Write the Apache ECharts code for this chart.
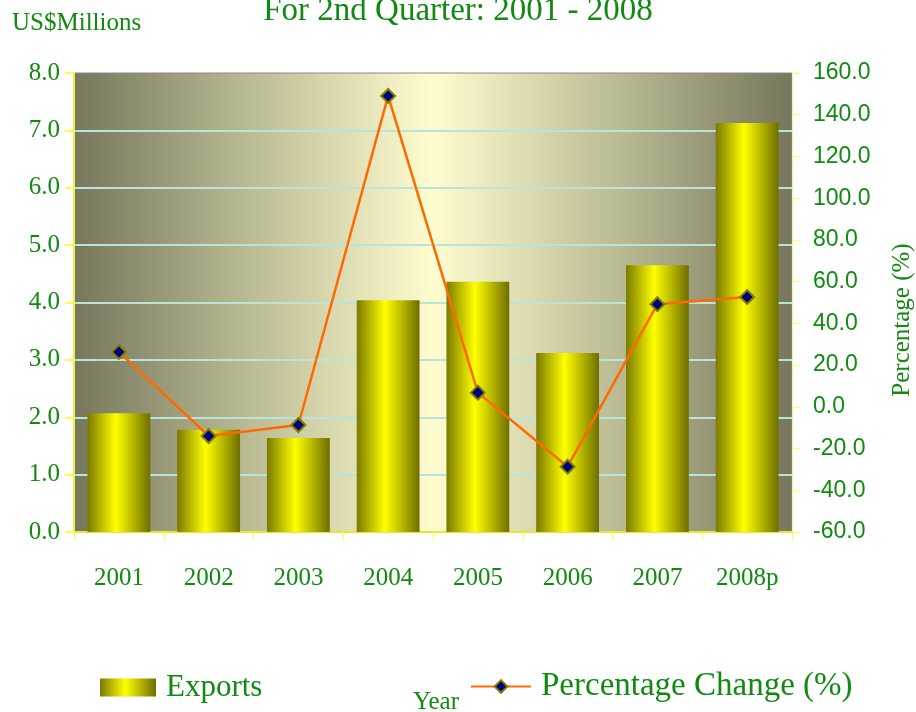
<!DOCTYPE html>
<html>
<head>
<meta charset="utf-8">
<script src="https://cdn.jsdelivr.net/npm/echarts@6/dist/echarts.min.js"></script>
<style>html,body{margin:0;padding:0;background:#fff;}#c{width:916px;height:712px;}</style>
</head>
<body>
<div id="c"></div>
<script>
var categories = ['2001', '2002', '2003', '2004', '2005', '2006', '2007', '2008p'];
var exportsValues = [2.07, 1.78, 1.64, 4.04, 4.36, 3.12, 4.65, 7.13];
var pctChange = [26.3, -14.0, -8.7, 149.0, 6.8, -28.7, 49.2, 52.6];
var leftTicks = {min: 0, max: 8, interval: 1};
var rightTicks = {min: -60, max: 160, interval: 20};

var green = '#118a11';
var serif = '"Liberation Serif", "DejaVu Serif", serif';
var sans = '"Liberation Sans", Arial, sans-serif';
var chart = echarts.init(document.getElementById('c'));
var barGrad = new echarts.graphic.LinearGradient(0, 0, 1, 0, [
  {offset: 0, color: '#7a7a00'},
  {offset: 0.45, color: '#ffff00'},
  {offset: 1, color: '#6e6e00'}
]);
chart.setOption({
  animation: false,
  title: {
    text: 'For 2nd Quarter: 2001 - 2008',
    left: 'center', top: -10,
    textStyle: {color: green, fontFamily: serif, fontSize: 33, fontWeight: 'normal'}
  },
  grid: {
    left: 74, right: 124, top: 73, bottom: 180,
    show: true, borderColor: '#8a8a8a', borderWidth: 1,
    backgroundColor: new echarts.graphic.LinearGradient(0, 0, 1, 0, [
      {offset: 0, color: '#76765c'},
      {offset: 0.22, color: '#b4b48e'},
      {offset: 0.5, color: '#fffdcf'},
      {offset: 0.78, color: '#b4b48e'},
      {offset: 1, color: '#76765c'}
    ])
  },
  legend: [{
    data: [{name: 'Exports', icon: 'rect'}], left: 95, top: 667, itemWidth: 56, itemHeight: 18, itemGap: 10,
    textStyle: {color: green, fontFamily: serif, fontSize: 31, padding: [0, 0, 0, 5]}
  }, {
    data: ['Percentage Change (%)'], left: 465, top: 665, itemWidth: 60, itemHeight: 16,
    textStyle: {color: green, fontFamily: serif, fontSize: 33, padding: [0, 0, 0, 5]}
  }],
  xAxis: {
    type: 'category', data: categories,
    axisLine: {lineStyle: {color: '#e8e830', width: 2}},
    axisTick: {show: true, length: 8, inside: false, lineStyle: {color: '#ffff40'}},
    axisLabel: {color: green, fontFamily: serif, fontSize: 25, margin: 34}
  },
  yAxis: [{
    type: 'value', min: leftTicks.min, max: leftTicks.max, interval: leftTicks.interval,
    axisLine: {show: true, lineStyle: {color: '#f0f040', width: 2}},
    axisTick: {show: true, length: 9, lineStyle: {color: '#ffff40', width: 2}},
    splitLine: {showMaxLine: false, showMinLine: false, lineStyle: {color: '#b8e4dc', width: 2}},
    axisLabel: {color: green, fontFamily: serif, fontSize: 25, margin: 14,
      formatter: function (v) { return v.toFixed(1); }}
  }, {
    type: 'value', min: rightTicks.min, max: rightTicks.max, interval: rightTicks.interval,
    position: 'right',
    axisLine: {show: true, lineStyle: {color: '#f4f4a0', width: 1}},
    axisTick: {show: true, length: 8, lineStyle: {color: '#ffff60', width: 1}},
    splitLine: {show: false},
    axisLabel: {color: green, fontFamily: sans, fontSize: 23, margin: 21,
      formatter: function (v) { return v.toFixed(1); }}
  }],
  graphic: [
    {type: 'text', left: 12, top: 11, style: {text: 'US$Millions', fill: green, font: '25px ' + serif}},
    {type: 'text', x: 902, y: 320, rotation: Math.PI / 2,
      style: {text: 'Percentage (%)', fill: green, font: '25px ' + serif, align: 'center', verticalAlign: 'middle'}},
    {type: 'text', x: 436, y: 702, style: {text: 'Year', fill: green, font: '25px ' + serif, align: 'center', verticalAlign: 'middle'}}
  ],
  series: [{
    name: 'Exports', type: 'bar', data: exportsValues, barWidth: '70%',
    itemStyle: {color: barGrad}
  }, {
    name: 'Percentage Change (%)', type: 'line', yAxisIndex: 1, data: pctChange,
    symbol: 'diamond', symbolSize: 14,
    lineStyle: {color: '#ff6a00', width: 2.5},
    itemStyle: {color: '#000080', borderColor: '#808000', borderWidth: 2}
  }]
});
</script>
</body>
</html>
